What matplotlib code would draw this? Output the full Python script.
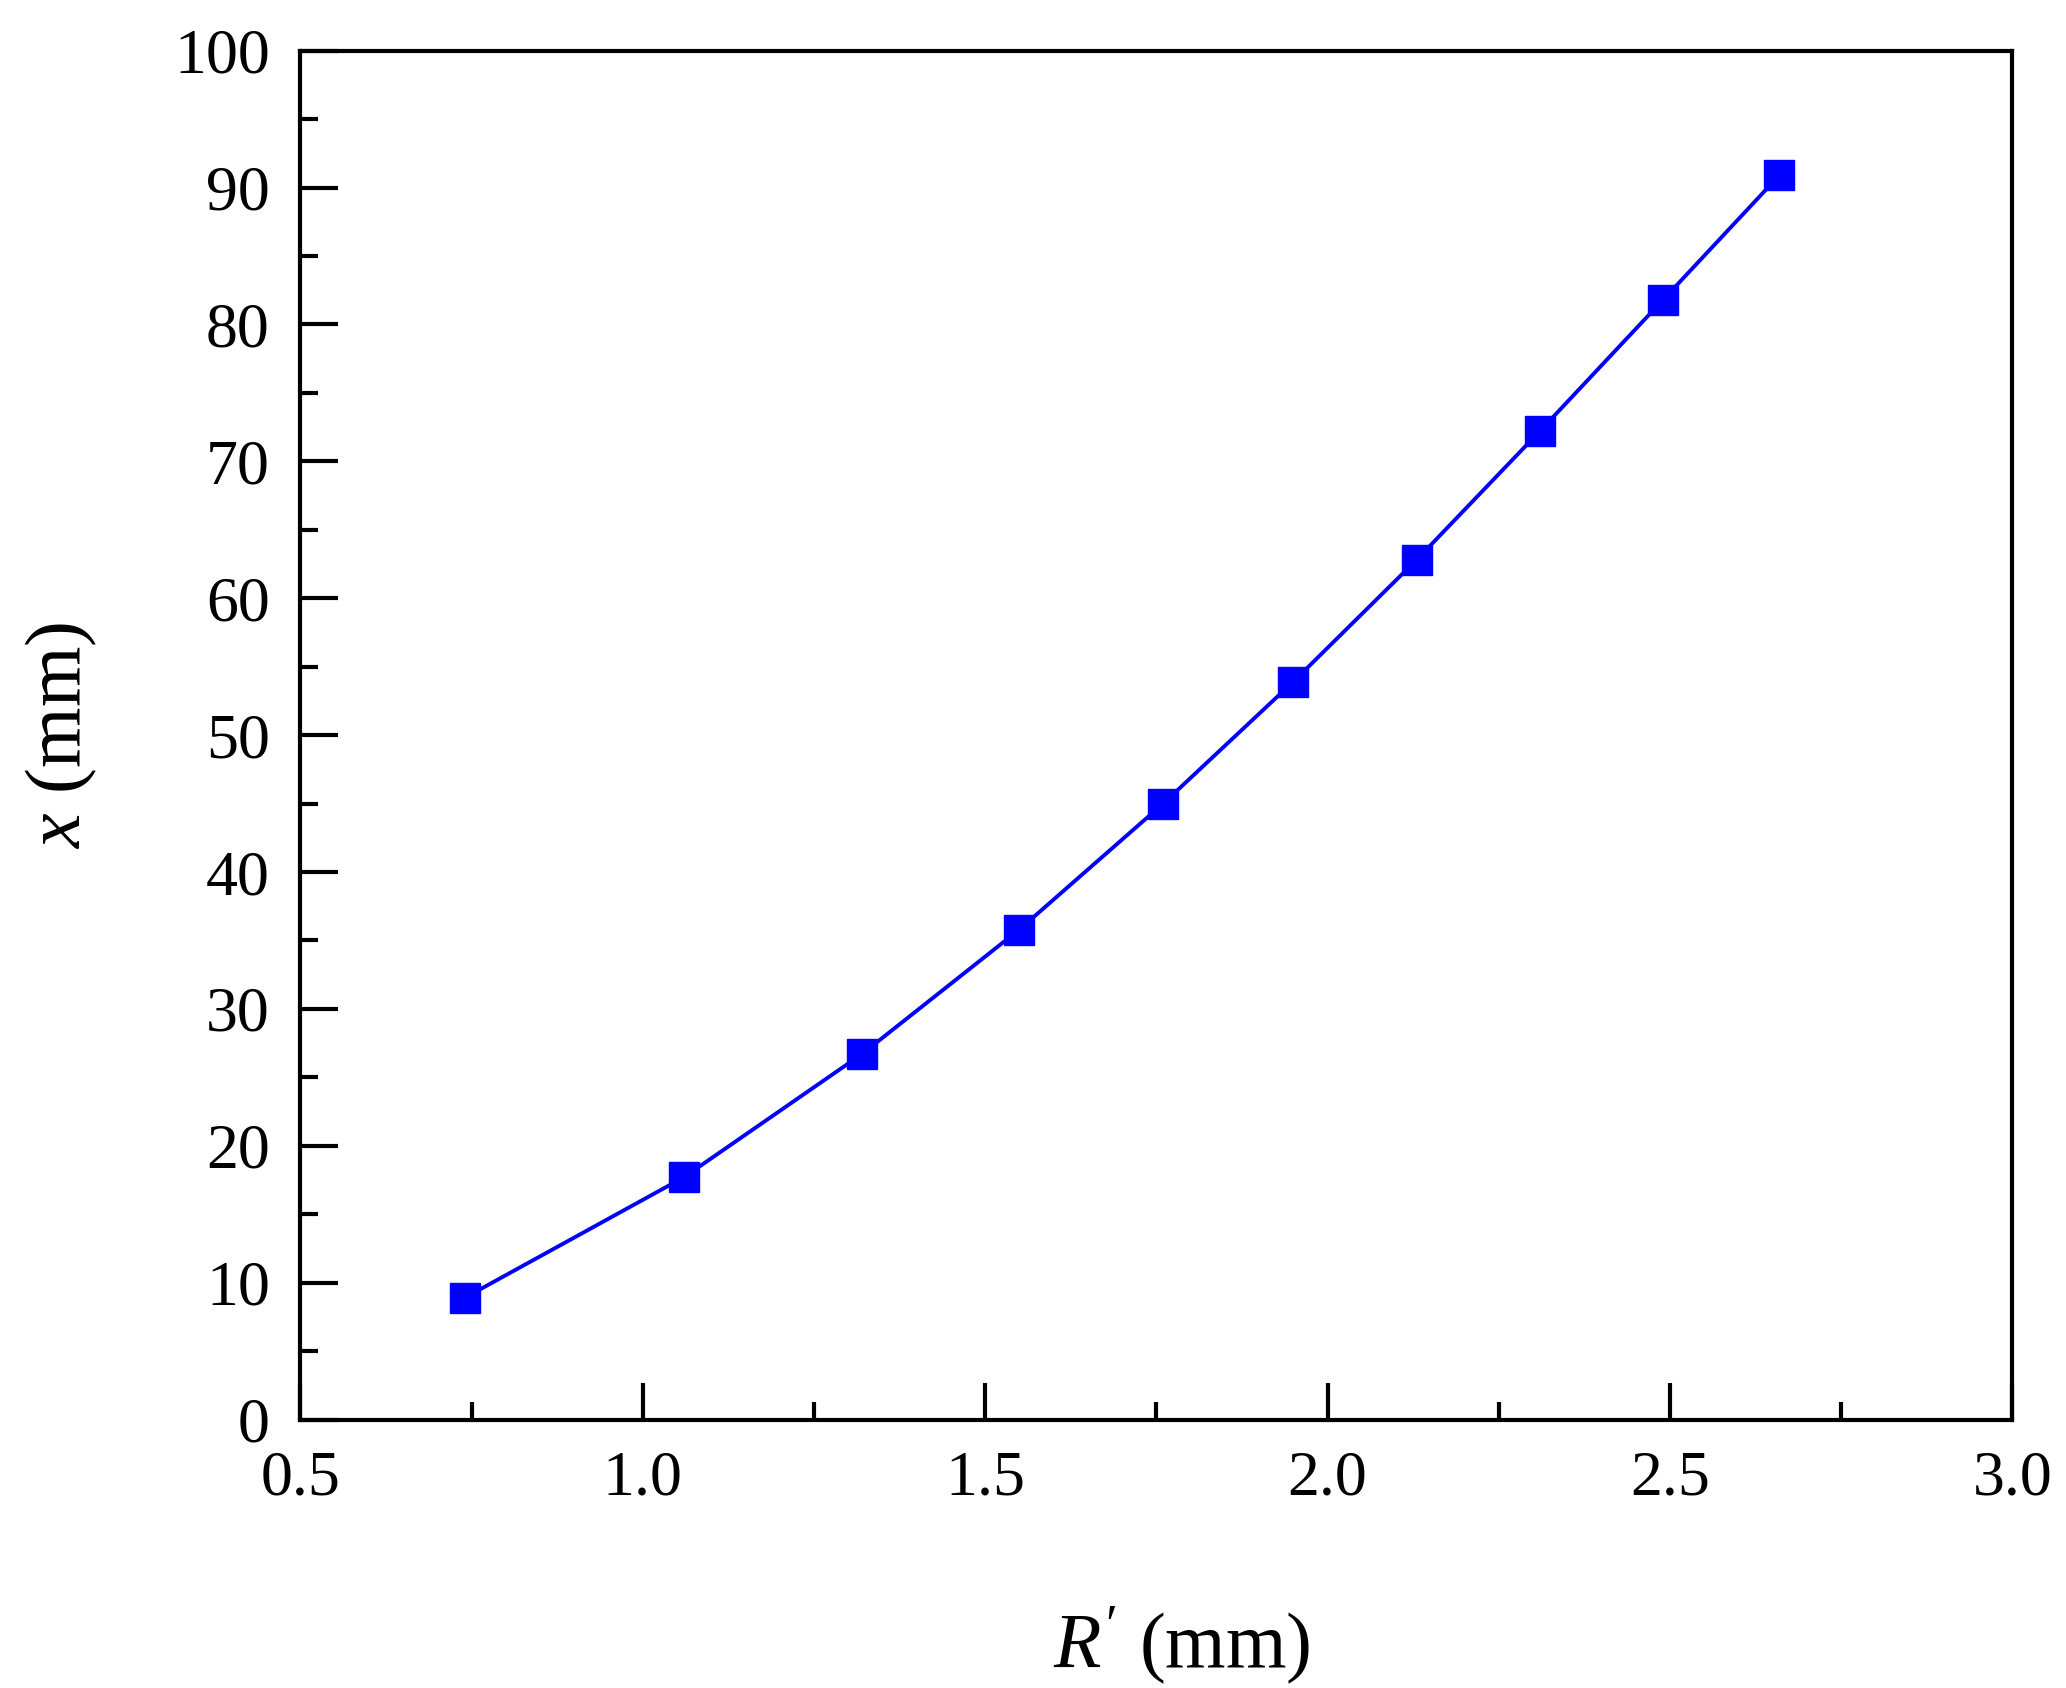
import matplotlib
matplotlib.use("Agg")
import matplotlib.pyplot as plt
from matplotlib.ticker import MultipleLocator

# data
r_prime = [0.74, 1.06, 1.32, 1.55, 1.76, 1.95, 2.13, 2.31, 2.49, 2.66]
x_mm = [8.9, 17.7, 26.7, 35.8, 45.0, 53.9, 62.8, 72.2, 81.8, 90.9]

plt.rcParams["font.family"] = "Liberation Serif"
plt.rcParams["mathtext.fontset"] = "custom"
plt.rcParams["mathtext.rm"] = "Liberation Serif"
plt.rcParams["mathtext.it"] = "Liberation Serif:italic"

fig = plt.figure(figsize=(20.66, 16.88), dpi=100)
ax = fig.add_axes([0.1454, 0.159, 0.974 - 0.1454, 0.970 - 0.159])

ax.plot(r_prime, x_mm, color="#0000ff", linewidth=2.8, marker="s",
        markersize=22, markeredgewidth=1)

ax.set_xlim(0.5, 3.0)
ax.set_ylim(0, 100)
ax.xaxis.set_major_locator(MultipleLocator(0.5))
ax.xaxis.set_minor_locator(MultipleLocator(0.25))
ax.yaxis.set_major_locator(MultipleLocator(10))
ax.yaxis.set_minor_locator(MultipleLocator(5))
ax.set_xticklabels([f"{v:.1f}" for v in ax.get_xticks()])

ax.tick_params(which="both", direction="in", top=False, right=False,
               labelsize=46, width=3)
ax.tick_params(which="major", length=27)
ax.tick_params(which="minor", length=13)
ax.tick_params(axis="x", pad=22)
ax.tick_params(axis="y", pad=22)
for sp in ax.spines.values():
    sp.set_linewidth(3)

ax.set_xlabel(r"$R^{\prime}$ (mm)", fontsize=56, labelpad=60)
ax.set_ylabel(r"$x$ (mm)", fontsize=56, labelpad=54)
ax.xaxis.set_label_coords(0.515, -0.135)

fig.savefig("out.png", dpi=100)
